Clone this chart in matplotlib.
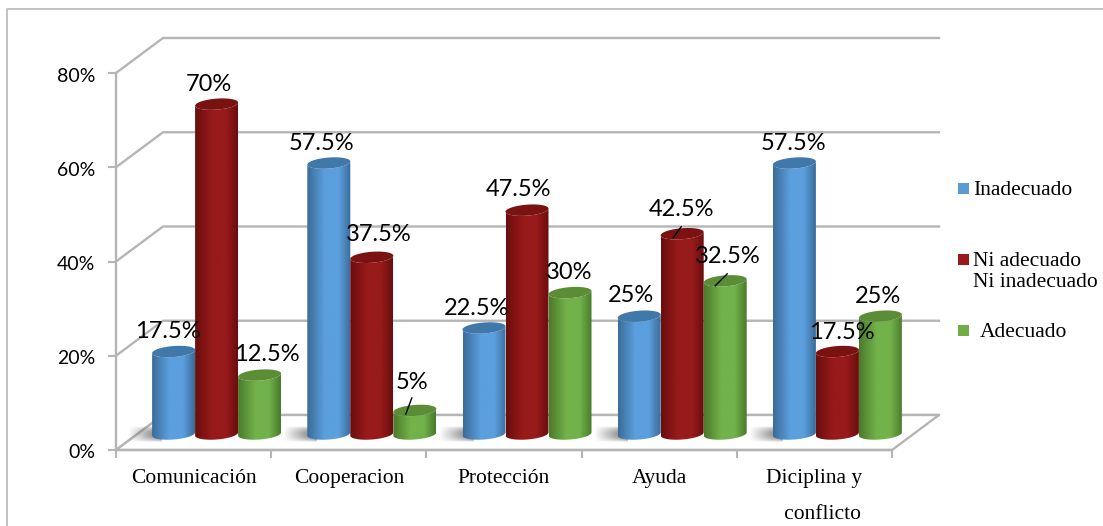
import numpy as np
import matplotlib
matplotlib.use('Agg')
import matplotlib.pyplot as plt
from matplotlib.colors import LinearSegmentedColormap
from matplotlib.lines import Line2D
from matplotlib.patches import Polygon, Rectangle
from matplotlib.transforms import ScaledTranslation

# Data
categories = ['Comunicación', 'Cooperacion', 'Protección', 'Ayuda', 'Diciplina y\n   conflicto']
inadecuado = [17.5, 57.5, 22.5, 25, 57.5]
ni_adecuado = [70, 37.5, 47.5, 42.5, 17.5]
adecuado = [12.5, 5, 30, 32.5, 25]
series = [inadecuado, ni_adecuado, adecuado]
y_ticks = [0, 20, 40, 60, 80]

W, H = 1103, 526
# plot box in pixels
LEFT, RIGHT, TOP, BOTTOM = 116, 892, 73, 450
PX_X = (RIGHT - LEFT) / len(categories)
PX_Y = (BOTTOM - TOP) / 80
DEPTH_X, DEPTH_Y = 47 / PX_X, 35 / PX_Y
GREY = '#b5b5b5'

# cylinder styles
edge_dark = ['#3a6c98', '#6a0e0e', '#4a7a2b']
mid_light = ['#5b9fde', '#981a1a', '#72b24a']
top_face = ['#3f78a9', '#7a1212', '#5a8d36']
swatch = ['#5b9bd5', '#981a1a', '#70ad47']

# label offsets from the top of each cylinder, pixels
label_dx = [[-6, -7, -7, -8, -1], [-8, 7, -8, -1, 4], [7, -3, -1, 3, -2]]
label_dy = [[20, 20, 19, 21, 20], [20, 23, 21, 24, 19], [21, 28, 20, 24, 20]]

plt.rcParams['font.family'] = ['Lato', 'DejaVu Sans']
fig = plt.figure(figsize=(W / 100, H / 100), dpi=100)
fig.patch.set_facecolor('white')
ax = fig.add_axes([LEFT / W, 1 - BOTTOM / H, (RIGHT - LEFT) / W, (BOTTOM - TOP) / H])
ax.patch.set_visible(False)


def px_line(xs, ys, **kw):
    fig.add_artist(Line2D([x / W for x in xs], [1 - y / H for y in ys], transform=fig.transFigure, **kw))


# chart frame
px_line([7, 7, W], [H, 9, 9], color='#b8b8b8', lw=1.2)

xmin, xmax = -0.5, len(categories) - 0.5

# back wall lines
for t in y_ticks:
    ax.plot([xmin, xmin + DEPTH_X, xmax + DEPTH_X], [t, t + DEPTH_Y, t + DEPTH_Y],
            color=GREY, lw=1.7, clip_on=False, zorder=1)
# floor
ax.add_patch(Polygon([[xmin, 0], [xmin + DEPTH_X, DEPTH_Y], [xmax + DEPTH_X, DEPTH_Y], [xmax, 0]],
                     closed=True, facecolor='white', edgecolor=GREY, lw=1.7, clip_on=False, zorder=1.5))

radius = 21.5 / PX_X
base_y = 16 / PX_Y
step = 43 / PX_X
centre = 23 / PX_X
semi_h = 5.5 / PX_Y
tilt = 1.6 / PX_Y
t_arc = np.linspace(np.pi, 2 * np.pi, 60)
t_full = np.linspace(0, 2 * np.pi, 90)

# soft floor shadows, left of each group
yy, xx = np.mgrid[0:1:40j, 0:1:60j]
shadow = np.ones((40, 60, 4)) * 0.4
shadow[..., 3] = 0.95 * xx * np.sin(np.pi * yy) ** 0.7
for i in range(len(categories)):
    x0 = i + centre - step - radius
    ax.imshow(shadow, extent=[x0 - 24 / PX_X, x0 + 10 / PX_X, 8 / PX_Y, 24 / PX_Y], origin='lower',
              aspect='auto', zorder=2, interpolation='bilinear').set_clip_box(fig.bbox)

# cylinders
grad_x = np.linspace(0, 1, 128)[None, :]
for s, values in enumerate(series):
    cmap = LinearSegmentedColormap.from_list('c%d' % s, [(0, edge_dark[s]), (0.4, mid_light[s]),
                                                          (0.72, mid_light[s]), (1, edge_dark[s])])
    for i, v in enumerate(values):
        cx = i + centre + (s - 1) * step
        top = base_y + v
        # outline: bottom arc, then top arc going back
        low = np.column_stack([cx + radius * np.cos(t_arc),
                               base_y + semi_h * np.sin(t_arc) + tilt * np.cos(t_arc)])
        high = np.column_stack([cx + radius * np.cos(t_arc[::-1]),
                                top + semi_h * np.sin(t_arc[::-1]) + tilt * np.cos(t_arc[::-1])])
        body = Polygon(np.vstack([low, high]), closed=True, facecolor='none', edgecolor='none',
                       transform=ax.transData, clip_on=False, zorder=3 + s + i * 3)
        ax.add_patch(body)
        im = ax.imshow(grad_x, cmap=cmap, extent=[cx - radius, cx + radius, base_y - 3 * semi_h, top + 3 * semi_h],
                       aspect='auto', zorder=3 + s + i * 3)
        im.set_clip_path(body)
        im.set_clip_box(fig.bbox)
        ax.add_patch(Polygon(np.column_stack([cx + radius * np.cos(t_full),
                                              top + semi_h * np.sin(t_full) + tilt * np.cos(t_full)]),
                             closed=True, facecolor=top_face[s], edgecolor='none', clip_on=False,
                             zorder=3.1 + s + i * 3))
        ax.annotate('%g%%' % v, (cx, top), xytext=(label_dx[s][i], label_dy[s][i]), textcoords='offset pixels',
                    ha='center', va='center', fontsize=17, color='black', zorder=40, annotation_clip=False)

# leader lines
for s, i, dx0, dy0, dx1, dy1 in [(2, 1, -3, 12.5, -9, -3.5), (1, 3, -1, 7, -9, -4), (2, 3, 2, 7, -10, -5)]:
    cx = i + centre + (s - 1) * step
    top = base_y + series[s][i]
    ax.plot([cx + dx0 / PX_X, cx + dx1 / PX_X], [top + dy0 / PX_Y, top + dy1 / PX_Y],
            color='black', lw=1, zorder=41, clip_on=False)

# axes
ax.set_xlim(xmin, xmax)
ax.set_ylim(0, 80)
for name in ['top', 'right']:
    ax.spines[name].set_visible(False)
for name in ['left', 'bottom']:
    ax.spines[name].set_color(GREY)
    ax.spines[name].set_linewidth(1.7)
    ax.spines[name].set_zorder(2)
ax.set_yticks(y_ticks)
ax.set_yticklabels(['%d%%' % t for t in y_ticks], fontsize=14)
ax.tick_params(axis='y', color=GREY, width=1.5, length=6, pad=9)
# tick_params resets the label transform, so nudge after it
nudge = ScaledTranslation(0, -1.5 / 100, fig.dpi_scale_trans)
for lab in ax.get_yticklabels():
    lab.set_verticalalignment('center_baseline')
    lab.set_transform(lab.get_transform() + nudge)
ax.set_xticks(np.arange(xmin, xmax + 1))
ax.set_xticklabels([])
ax.tick_params(axis='x', which='major', color=GREY, width=1.5, length=6)
ax.set_xticks(range(len(categories)), minor=True)
ax.set_xticklabels(categories, minor=True, family='Liberation Serif', fontsize=15.5, linespacing=2.15)
ax.tick_params(axis='x', which='minor', length=0, pad=14)

# legend
legend_rows = [('Inadecuado', 189, 973), ('Ni adecuado\nNi inadecuado', 260, 973), ('Adecuado', 331, 980)]
for k, (text, y, tx) in enumerate(legend_rows):
    fig.add_artist(Rectangle((958 / W, 1 - (y + 5) / H), 11 / W, 11 / H, transform=fig.transFigure,
                             facecolor=swatch[k], edgecolor='none'))
    fig.text(tx / W, 1 - (y - 8) / H, text, family='Liberation Serif', fontsize=15.5, va='top', ha='left',
             linespacing=1.15)

fig.savefig('out.png', dpi=100)
